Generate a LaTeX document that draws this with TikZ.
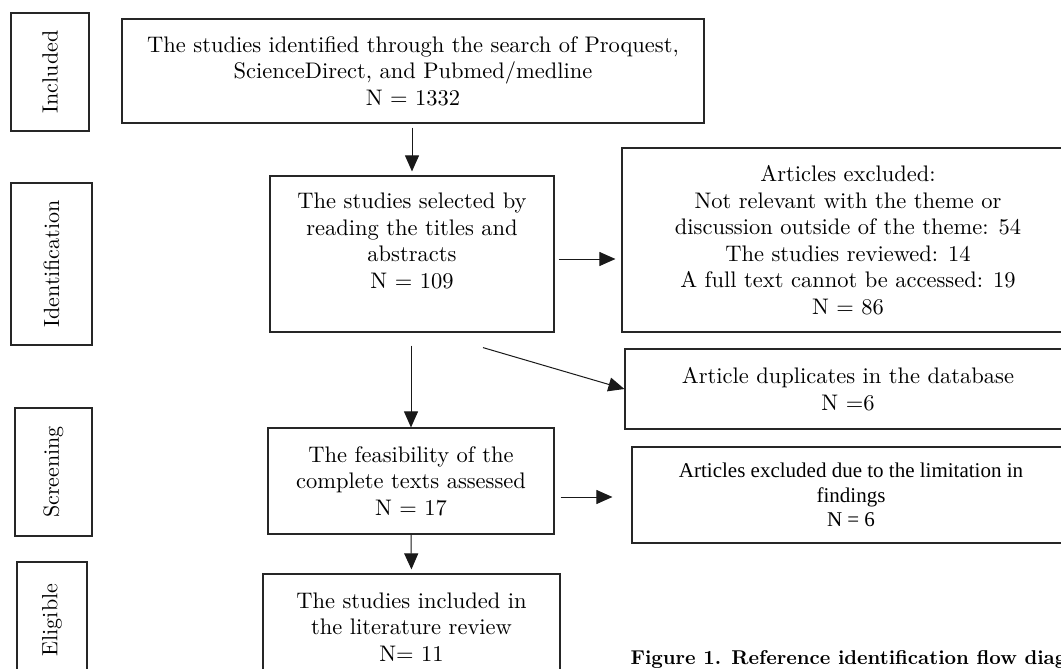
\documentclass[tikz,border=0pt]{standalone}
\usepackage{fontspec}
\setmainfont{lmroman10-regular.otf}[BoldFont=lmroman10-bold.otf]
\newfontfamily\timesfont{Liberation Serif}
\usetikzlibrary{positioning,calc,arrows.meta}
\tikzset{
    >={Triangle[length=16pt,width=14pt]},
    stagebox/.style={
        rectangle,
        draw=black!85, line width=1.2pt,
        rotate=90,
        inner sep=0pt,
        font={\fontsize{22}{26}\selectfont}
    },
    flowbox/.style={
        rectangle,
        draw=black!85, line width=1.2pt,
        inner sep=0pt,
        align=center,
        font={\fontsize{22.5}{26.5}\selectfont}
    },
    line/.style={draw, line width=1pt, black!90, ->},
}
\begin{document}
\begin{tikzpicture}[x=1pt,y=-1pt]
\path[fill=white] (0,0) rectangle (1061,669);
\useasboundingbox (0,0) rectangle (1061,669);
\node[stagebox, minimum width=118pt, minimum height=78pt] (included) at (50,72) {Included};
\node[stagebox, minimum width=162pt, minimum height=81pt] (identification) at (51.5,264) {Identification};
\node[stagebox, minimum width=128pt, minimum height=77pt] (screening) at (53.5,472) {Screening};
\node[stagebox, minimum width=116pt, minimum height=70pt] (eligible) at (52,620) {Eligible};
\node[flowbox, minimum width=582pt, minimum height=104pt] (search) at (413,71)
    {The studies identified through the search of Proquest,\\ ScienceDirect, and Pubmed/medline\\ N = 1332};
\node[flowbox, minimum width=284pt, minimum height=156pt] (titles) at (412,254)
    {The studies selected by\\ reading the titles and\\ abstracts\\ N = 109\\ ~};
\node[flowbox, minimum width=452pt, minimum height=184pt] (excluded) at (848,240)
    {Articles excluded:\\ Not relevant with the theme or\\ discussion outside of the theme: 54\\ The studies reviewed: 14\\ A full text cannot be accessed: 19\\ N = 86};
\node[flowbox, minimum width=446pt, minimum height=80pt] (duplicates) at (848,389)
    {Article duplicates in the database\\ N =6};
\node[flowbox, minimum width=286pt, minimum height=106pt] (feasibility) at (411,481)
    {The feasibility of the\\ complete texts assessed\\ N = 17};
\node[flowbox, minimum width=438pt, minimum height=96pt, font={\timesfont\fontsize{21}{24.5}\selectfont}] (limitation) at (851,495)
    {Articles excluded due to the limitation in\\ findings\\ N = 6};
\node[flowbox, minimum width=297pt, minimum height=106pt] (review) at (411.5,627)
    {The studies included in\\ the literature review\\ N= 11};
\node[anchor=west, font={\bfseries\fontsize{20}{24}\selectfont}] (caption) at (627,660)
    {Figure 1. Reference identification flow diagram};
\path[line, shorten <=4pt, shorten >=4pt] (titles.north |- search.south) -- (titles.north);
\path[line, shorten <=4pt, shorten >=6pt] ([yshift=-5pt]titles.east) -- ([yshift=-5pt]titles.east -| excluded.west);
\path[line] ([xshift=71pt,yshift=-15pt]titles.south) -- (duplicates.west);
\path[line, shorten <=13pt] (feasibility.north |- titles.south) -- (feasibility.north);
\path[line, shorten <=6pt, shorten >=19pt] ([yshift=-16pt]feasibility.east) -- ([yshift=-16pt]feasibility.east -| limitation.west);
\path[line, shorten >=4pt] (feasibility.south) -- (review.north);
\end{tikzpicture}
\end{document}
